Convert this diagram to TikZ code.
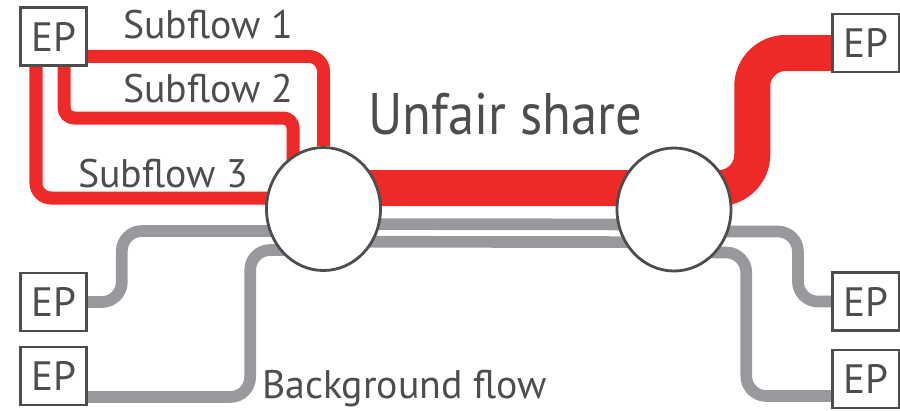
\documentclass[tikz,border=0pt]{standalone}
\usepackage{graphicx}
\usepackage{fontspec}
\setmainfont{PT Sans}
\usetikzlibrary{shapes.geometric}

\definecolor{flowred}{RGB}{238,42,41}
\definecolor{flowgray}{RGB}{152,153,157}
\definecolor{ink}{RGB}{77,77,77}

\pgfdeclarelayer{bg}
\pgfsetlayers{bg,main}

\begin{document}
\begin{tikzpicture}[x=0.03cm, y=-0.03cm,
  ep/.style={draw=ink, line width=2.4pt, fill=white, minimum width=2.0cm,
    minimum height=1.74cm, inner sep=0pt, text=ink, font=\fontsize{35}{40}\selectfont},
  router/.style={ellipse, draw=ink, line width=2.4pt, fill=white,
    minimum width=3.42cm, minimum height=3.69cm, inner sep=0pt},
  lbl/.style={text=ink, anchor=base west, inner sep=0pt, font=\fontsize{34}{40}\selectfont},
  subflow/.style={draw=flowred, line width=3.9mm, rounded corners=4.5mm},
  bgflow/.style={draw=flowgray, line width=3.5mm, rounded corners=6mm}]
\useasboundingbox (0,0) rectangle (900,410);

% end points
\node [ep] (ep1) at (53.5,36.5) {EP};
\node [ep] (ep2) at (53.5,302) {EP};
\node [ep] (ep3) at (53.5,376) {EP};
\node [ep] (ep4) at (866,43) {EP};
\node [ep] (ep5) at (866,301.5) {EP};
\node [ep] (ep6) at (866,379) {EP};

% the two routers
\node [router] (r1) at (323.5,209) {};
\node [router] (r2) at (674,209.5) {};

% labels
\node [lbl] (sub1) at (123,38) {Subflow 1};
\node [lbl] (sub2) at (123,102) {Subflow 2};
\node [lbl] (sub3) at (78,187) {Subflow 3};
\node [lbl, font=\fontsize{50}{56}\selectfont] (unfair) at (368,134)
  {\scalebox{0.9}[1]{Unfair share}};
\node [lbl] (bglbl) at (262,398) {Background flow};

\begin{pgfonlayer}{bg}
% the three subflows
\draw [subflow] ([yshift=3.15mm]ep1.south east) -| (r1.north);
\draw [subflow, rounded corners=3mm] ([xshift=3.2mm]ep1.south)
  |- ([xshift=-9.15mm,yshift=27.3mm]r1.center) [rounded corners=8mm]
  -- ([xshift=-9.15mm]r1.center);
\draw [subflow] ([xshift=-5.25mm]ep1.south) |- ([yshift=3.3mm]r1.center);
% aggregated flow
\draw [flowred, line width=10.8mm, rounded corners=10mm] ([yshift=6.3mm]r1.center)
  -| ([xshift=-2.37cm,yshift=-3mm]ep4.west) -- ([yshift=-3mm]ep4.west);
% background flow
\draw [bgflow] (ep2.east) -| ([xshift=-6.05cm,yshift=-6.6mm]r1.center)
  -- ([yshift=-6.6mm]r1.center);
\draw [bgflow] ([yshift=-6.3mm]ep3.east) -| ([xshift=-2.2cm,yshift=-12.3mm]r1.center)
  -- ([yshift=-12.3mm]r1.center);
\draw [bgflow] ([yshift=-4.5mm]r1.center) -- ([yshift=-4.5mm]r2.center);
\draw [bgflow] ([yshift=-9.8mm]r1.center) -- ([yshift=-9.8mm]r2.center);
\draw [bgflow] ([yshift=-6.6mm]r2.center) -| ([xshift=-1cm]ep5.west) -- (ep5.west);
\draw [bgflow] ([yshift=-12.9mm]r2.center) -| ([xshift=-2.55cm,yshift=-5.1mm]ep6.west)
  -- ([yshift=-5.1mm]ep6.west);
\end{pgfonlayer}
\end{tikzpicture}
\end{document}
